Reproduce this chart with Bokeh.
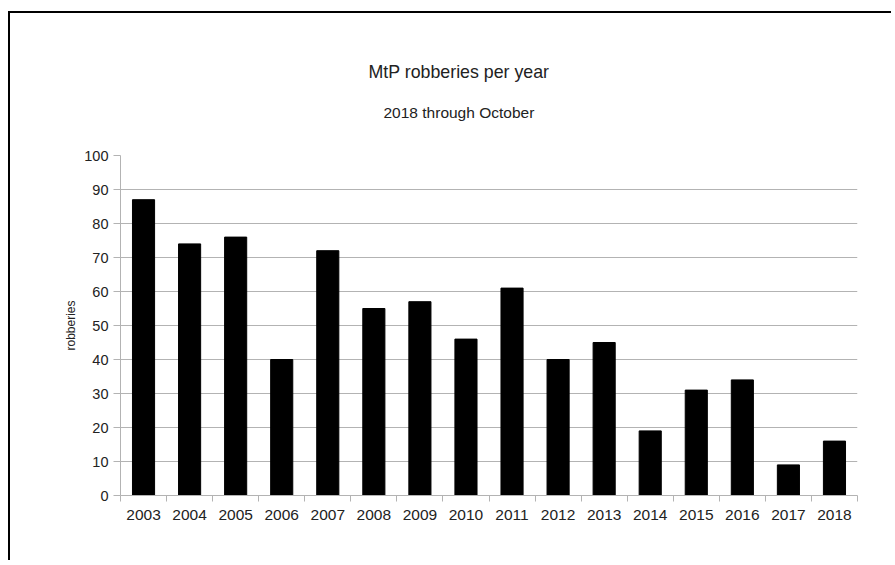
from bokeh.plotting import figure
from bokeh.models import FixedTicker, Title, Range1d
from bokeh.embed import file_html
from bokeh.resources import INLINE

years = ["2003", "2004", "2005", "2006", "2007", "2008", "2009", "2010",
         "2011", "2012", "2013", "2014", "2015", "2016", "2017", "2018"]
robberies = [87, 74, 76, 40, 72, 55, 57, 46, 61, 40, 45, 19, 31, 34, 9, 16]
y_ticks = [0, 10, 20, 30, 40, 50, 60, 70, 80, 90, 100]
title_text = "MtP robberies per year"
subtitle_text = "2018 through October"
y_label = "robberies"

FONT = "Liberation Sans"
TXT = "#222222"
GRID = "#b3b3b3"

n = len(years)
xs = list(range(n))

p = figure(width=883, height=549, output_backend="svg", toolbar_location=None,
           x_range=Range1d(-0.5, n - 0.5), y_range=Range1d(y_ticks[0], y_ticks[-1]),
           min_border_left=110, min_border_right=36, min_border_bottom=67,
           min_border_top=142, title=None,
           styles={"border-top": "2px solid black", "border-left": "2px solid black",
                   "margin-top": "11px", "margin-left": "8px"})
p.outline_line_color = None
p.background_fill_color = "white"
p.border_fill_color = "white"

p.vbar(x=xs, top=robberies, width=0.48, fill_color="black", line_color="black")

# x axis
xt = FixedTicker(ticks=xs, minor_ticks=[i - 0.5 for i in range(n + 1)])
p.xaxis.ticker = xt
p.xaxis.major_label_overrides = {i: y for i, y in enumerate(years)}
p.xaxis.major_tick_line_color = None
p.xaxis.major_tick_out = 5
p.xaxis.major_tick_in = 0
p.xaxis.minor_tick_line_color = GRID
p.xaxis.minor_tick_out = 6
p.xaxis.minor_tick_in = 0
p.xaxis.axis_line_color = GRID
p.xaxis.major_label_standoff = 8
p.xaxis.major_label_text_font = FONT
p.xaxis.major_label_text_font_size = "15.5px"
p.xaxis.major_label_text_color = TXT
p.xgrid.grid_line_color = None

# y axis
p.yaxis.ticker = FixedTicker(ticks=y_ticks)
p.yaxis.minor_tick_line_color = None
p.yaxis.major_tick_line_color = GRID
p.yaxis.major_tick_out = 7
p.yaxis.major_tick_in = 0
p.yaxis.axis_line_color = GRID
p.yaxis.major_label_standoff = 5
p.yaxis.major_label_text_font = FONT
p.yaxis.major_label_text_font_size = "14.5px"
p.yaxis.major_label_text_color = TXT
p.yaxis.axis_label = y_label
p.yaxis.axis_label_text_font = FONT
p.yaxis.axis_label_text_font_size = "12px"
p.yaxis.axis_label_text_font_style = "normal"
p.yaxis.axis_label_text_color = TXT
p.yaxis.axis_label_standoff = 3
p.ygrid.grid_line_color = GRID
p.ygrid.grid_line_width = 1

# spacer panel between the frame and the subtitle
p.add_layout(Title(text=" ", standoff=22, text_font=FONT, text_font_size="1px"), "above")
p.add_layout(Title(text=subtitle_text, align="left", offset=263, standoff=20,
                   text_font=FONT, text_font_size="15.5px", text_font_style="normal",
                   text_color=TXT), "above")
p.add_layout(Title(text=title_text, align="left", offset=248, standoff=20,
                   text_font=FONT, text_font_size="17.8px", text_font_style="normal",
                   text_color=TXT), "above")

open("out.html", "w").write(file_html(p, INLINE))
